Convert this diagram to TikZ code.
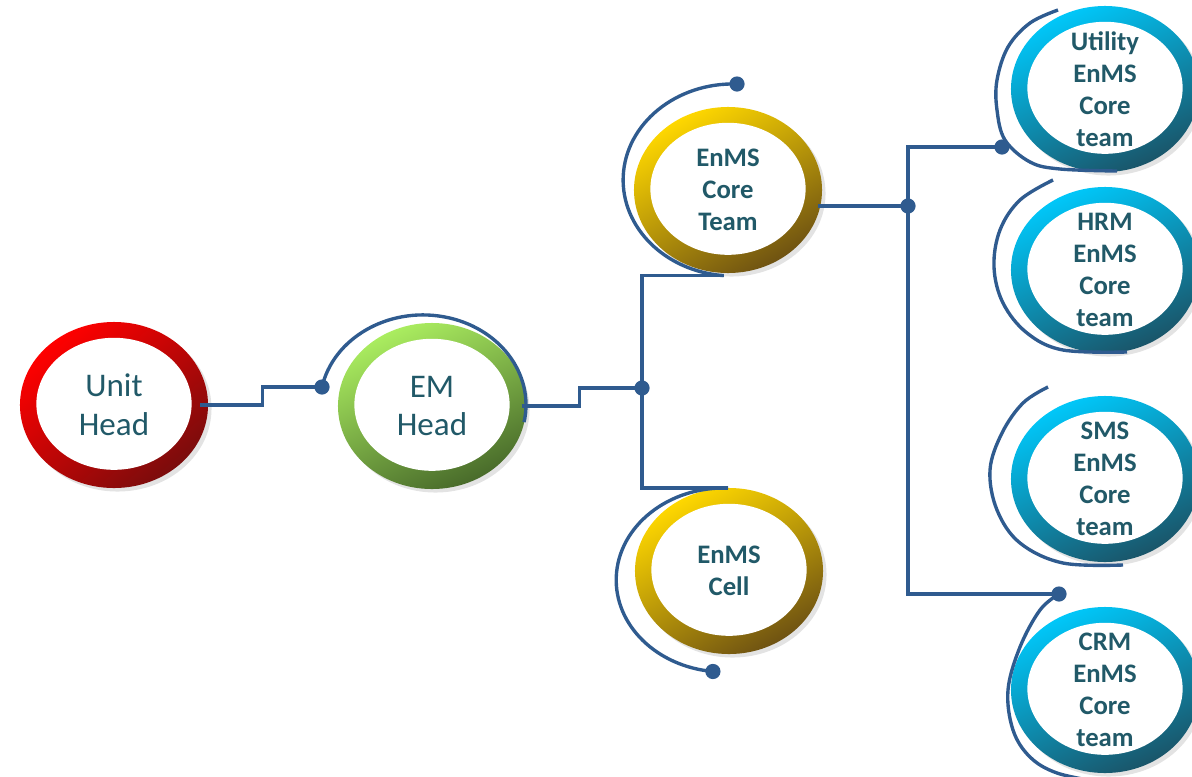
\documentclass[tikz,border=0pt]{standalone}
\usepackage{fontspec}
\setmainfont{Carlito}
\usetikzlibrary{shapes.geometric,shadows,calc}
\definecolor{txt}{HTML}{215968}
\definecolor{connc}{HTML}{2F5B8F}
\definecolor{redA}{HTML}{FF0000}
\definecolor{redB}{HTML}{C00000}
\definecolor{redC}{HTML}{7A0C0C}
\definecolor{grnA}{HTML}{ABEE60}
\definecolor{grnB}{HTML}{76A83E}
\definecolor{grnC}{HTML}{486A2A}
\definecolor{gldA}{HTML}{FFD800}
\definecolor{gldB}{HTML}{C89A08}
\definecolor{gldC}{HTML}{6E5212}
\definecolor{bluA}{HTML}{00C8FA}
\definecolor{bluB}{HTML}{1590B8}
\definecolor{bluC}{HTML}{1A5468}
\begin{document}
\begin{tikzpicture}[x=0.025cm,y=-0.025cm,
  ring/.style={ellipse, inner sep=0pt, minimum width=4.7cm, minimum height=4.15cm,
    text=txt, align=center,
    drop shadow={shadow xshift=2.5pt, shadow yshift=-2.5pt, opacity=0.22},
    path picture={\fill[white] ([yshift=0.03cm]path picture bounding box.center) ellipse [x radius=1.94cm, y radius=1.65cm];}},
  regtext/.style={font=\fontsize{23.5}{27.7}\selectfont},
  boldtext/.style={font=\bfseries\fontsize{19}{22.8}\selectfont},
  redring/.style={top color=redA, middle color=redB, bottom color=redC, shading angle=40},
  grnring/.style={top color=grnA, middle color=grnB, bottom color=grnC, shading angle=25},
  gldring/.style={top color=gldA, middle color=gldB, bottom color=gldC, shading angle=30},
  bluring/.style={top color=bluA, middle color=bluB, bottom color=bluC, shading angle=25},
  conn/.style={draw=connc, line width=2.4pt},
  dotmark/.style={fill=connc}
]
\useasboundingbox (0,0) rectangle (1192,777);
\clip (0,0) rectangle (1192,777);

% nodes
\node[ring, redring, regtext] (unit) at (114,405) {Unit\\Head};
\node[ring, grnring, regtext] (em) at (432,406) {EM\\Head};
\node[ring, gldring, boldtext] (core) at (728,190) {EnMS\\Core\\Team};
\node[ring, gldring, boldtext] (cell) at (729,571) {EnMS\\Cell};
\node[ring, bluring, boldtext] (util) at (1105,89) {Utility\\EnMS\\Core\\team};
\node[ring, bluring, boldtext] (hrm) at (1105,270) {HRM\\EnMS\\Core\\team};
\node[ring, bluring, boldtext] (sms) at (1105,479) {SMS\\EnMS\\Core\\team};
\node[ring, bluring, boldtext] (crm) at (1105,690) {CRM\\EnMS\\Core\\team};

% coordinates
\coordinate (d1) at (322,387);
\coordinate (d2) at (642,388);
\coordinate (d3) at (908,206);
\coordinate (d4) at (737,84);
\coordinate (a2) at (728,488);
\coordinate (t1) at (1002,147);
\coordinate (t4) at (1059,594);

% Unit Head -> EM Head
\draw[conn] ([xshift=-0.2cm]unit.east) -- ++(62,0) |- (d1);
\draw[conn] (d1) arc[start angle=168.5, end angle=-11, x radius=2.575cm, y radius=2.25cm];

% EM Head -> branch
\draw[conn] ([xshift=-0.12cm]em.east) -- ++(58,0) |- (d2);

% EnMS Core Team arc
\draw[conn] (d4) arc[start angle=88, end angle=265, x radius=2.75cm, y radius=2.4cm] coordinate (a1);
\draw[conn] (a1) -- (a1 -| d2) -- (d2 |- a2) -- (a2);
% EnMS Cell arc
\draw[conn] (a2) arc[start angle=88, end angle=264, x radius=2.7cm, y radius=2.3cm] coordinate (d5);

% Core team -> right column
\draw[conn] (core.east |- d3) ++(-4,0) -- (d3);
\draw[conn] (t1) -| (d3) |- (t4);

% right column arcs
\draw[conn] plot[smooth, tension=0.6] coordinates {(1058,10) (1030,23) (1008,47) (997,80) (997,110) (1005,140) (1030,162) (1060,169) (1117,171)};
\draw[conn] plot[smooth, tension=0.6] coordinates {(1053,180) (1020,200) (1000,230) (994,267) (1003,303) (1027,333) (1063,350) (1127,352)};
\draw[conn] plot[smooth, tension=0.6] coordinates {(1048,387) (1023,403) (1002,433) (990,470) (997,510) (1020,543) (1063,563) (1123,565)};
\draw[conn] plot[smooth, tension=0.6] coordinates {(1059,594) (1040,610) (1020,647) (1008,690) (1013,730) (1030,757) (1057,773) (1100,782)};

% dots
\foreach \p in {d1,d2,d3,d4,d5,t1,t4} \fill[dotmark] (\p) circle (0.19cm);
\end{tikzpicture}
\end{document}
